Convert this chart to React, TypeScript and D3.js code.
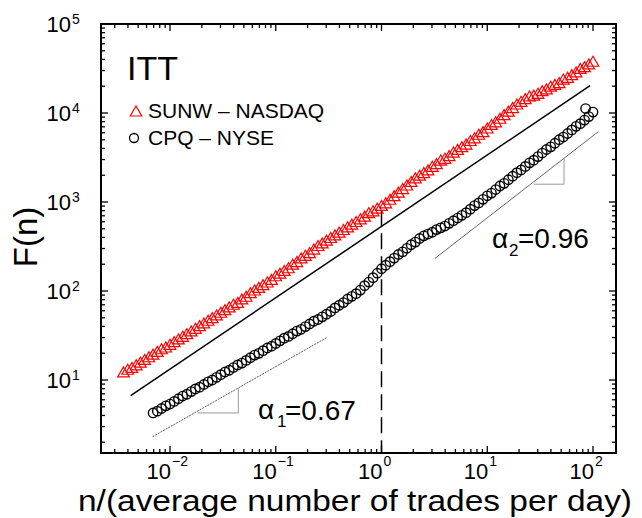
import React from 'react';
import * as d3 from 'd3';

const sunwExpN = [
  -2.44, -2.40, -2.36, -2.32, -2.28, -2.24, -2.20, -2.16, -2.12, -2.08,
  -2.04, -2.00, -1.96, -1.92, -1.88, -1.84, -1.80, -1.76, -1.72, -1.68,
  -1.64, -1.60, -1.56, -1.52, -1.48, -1.44, -1.40, -1.36, -1.32, -1.28,
  -1.24, -1.20, -1.16, -1.12, -1.08, -1.04, -1.00, -0.96, -0.92, -0.88,
  -0.84, -0.80, -0.76, -0.72, -0.68, -0.64, -0.60, -0.56, -0.52, -0.48,
  -0.44, -0.40, -0.36, -0.32, -0.28, -0.24, -0.20, -0.16, -0.12, -0.08,
  -0.04, 0.00, 0.04, 0.08, 0.12, 0.16, 0.20, 0.24, 0.28, 0.32,
  0.36, 0.40, 0.44, 0.48, 0.52, 0.56, 0.60, 0.64, 0.68, 0.72,
  0.76, 0.80, 0.84, 0.88, 0.92, 0.96, 1.00, 1.04, 1.08, 1.12,
  1.16, 1.20, 1.24, 1.28, 1.32, 1.36, 1.40, 1.44, 1.48, 1.52,
  1.56, 1.60, 1.64, 1.68, 1.72, 1.76, 1.80, 1.84, 1.88, 1.92,
  1.96, 2.00,
];
const sunwExpF = [
  1.08, 1.11, 1.13, 1.16, 1.19, 1.22, 1.25, 1.28, 1.31, 1.34,
  1.36, 1.39, 1.42, 1.45, 1.48, 1.51, 1.54, 1.57, 1.60, 1.63,
  1.66, 1.69, 1.72, 1.75, 1.78, 1.81, 1.84, 1.86, 1.90, 1.93,
  1.97, 2.00, 2.03, 2.06, 2.09, 2.12, 2.16, 2.19, 2.22, 2.25,
  2.29, 2.32, 2.36, 2.39, 2.42, 2.46, 2.50, 2.53, 2.56, 2.59,
  2.62, 2.65, 2.68, 2.71, 2.74, 2.77, 2.80, 2.83, 2.87, 2.89,
  2.92, 2.95, 2.98, 3.02, 3.06, 3.10, 3.14, 3.18, 3.22, 3.26,
  3.29, 3.32, 3.35, 3.39, 3.42, 3.46, 3.48, 3.51, 3.55, 3.58,
  3.61, 3.64, 3.68, 3.71, 3.75, 3.78, 3.82, 3.86, 3.89, 3.93,
  3.97, 4.01, 4.05, 4.09, 4.12, 4.15, 4.18, 4.19, 4.21, 4.24,
  4.26, 4.29, 4.31, 4.33, 4.37, 4.39, 4.42, 4.45, 4.49, 4.51,
  4.54, 4.57,
];

const cpqExpN = [
  -2.16, -2.12, -2.08, -2.04, -2.00, -1.96, -1.92, -1.88, -1.84, -1.80,
  -1.76, -1.72, -1.68, -1.64, -1.60, -1.56, -1.52, -1.48, -1.44, -1.40,
  -1.36, -1.32, -1.28, -1.24, -1.20, -1.16, -1.12, -1.08, -1.04, -1.00,
  -0.96, -0.92, -0.88, -0.84, -0.80, -0.76, -0.72, -0.68, -0.64, -0.60,
  -0.56, -0.52, -0.48, -0.44, -0.40, -0.36, -0.32, -0.28, -0.24, -0.20,
  -0.16, -0.12, -0.08, -0.04, 0.00, 0.04, 0.08, 0.12, 0.16, 0.20,
  0.24, 0.28, 0.32, 0.36, 0.40, 0.44, 0.48, 0.52, 0.56, 0.60,
  0.64, 0.68, 0.72, 0.76, 0.80, 0.84, 0.88, 0.92, 0.96, 1.00,
  1.04, 1.08, 1.12, 1.16, 1.20, 1.24, 1.28, 1.32, 1.36, 1.40,
  1.44, 1.48, 1.52, 1.56, 1.60, 1.64, 1.68, 1.72, 1.76, 1.80,
  1.84, 1.88, 1.92, 1.93, 1.96, 2.00,
];
const cpqExpF = [
  0.63, 0.65, 0.68, 0.71, 0.73, 0.76, 0.79, 0.82, 0.84, 0.87,
  0.90, 0.92, 0.95, 0.98, 1.00, 1.03, 1.06, 1.09, 1.11, 1.14,
  1.17, 1.19, 1.22, 1.25, 1.28, 1.30, 1.33, 1.36, 1.38, 1.41,
  1.44, 1.47, 1.49, 1.52, 1.55, 1.57, 1.60, 1.63, 1.66, 1.68,
  1.71, 1.74, 1.77, 1.81, 1.84, 1.87, 1.91, 1.94, 1.97, 2.01,
  2.06, 2.10, 2.15, 2.20, 2.25, 2.29, 2.33, 2.37, 2.41, 2.44,
  2.48, 2.52, 2.55, 2.59, 2.62, 2.64, 2.66, 2.69, 2.71, 2.73,
  2.76, 2.79, 2.82, 2.85, 2.88, 2.92, 2.96, 2.99, 3.03, 3.07,
  3.10, 3.14, 3.18, 3.21, 3.25, 3.29, 3.33, 3.36, 3.40, 3.44,
  3.47, 3.51, 3.55, 3.59, 3.62, 3.66, 3.70, 3.73, 3.77, 3.81,
  3.85, 3.88, 3.92, 4.05, 3.96, 4.01,
];

// reference lines, [exp n, exp F] end points
const fitLine = [[-2.372, 0.824], [1.972, 4.307]];
const alpha1Line = [[-2.164, 0.363], [-0.513, 1.48]];
const alpha2Line = [[0.506, 2.367], [2.05, 3.79]];
const alpha1Wedge = [[-1.74, 0.63], [-1.354, 0.63], [-1.354, 0.91]];
const alpha2Wedge = [[1.44, 3.2], [1.726, 3.2], [1.726, 3.49]];
const crossoverN = 1;
const crossoverTopF = 810;

const W = 642;
const H = 518;
const left = 101, right = 616, top = 24, bottom = 453;
const font = '"Liberation Sans", Arial, Helvetica, sans-serif';

const x = d3.scaleLog().domain([10 ** -2.6525, 10 ** 2.2175]).range([left, right]);
const y = d3.scaleLog().domain([10 ** 0.18, 1e5]).range([bottom, top]);

const isMajor = (v: number) => Math.abs(Math.log10(v) - Math.round(Math.log10(v))) < 1e-6;
const supText = (e: number) => (e < 0 ? '\u2212' + Math.abs(e) : String(e));

const px = (p: number[]) => x(10 ** p[0]);
const py = (p: number[]) => y(10 ** p[1]);
const linePath = (pts: number[][]) =>
  pts.map((p, i) => `${i ? 'L' : 'M'}${px(p).toFixed(2)},${py(p).toFixed(2)}`).join('');

const triPath = (cx: number, cy: number) =>
  `M${cx},${cy - 6}L${cx - 5.8},${cy + 4}L${cx + 5.8},${cy + 4}Z`;

export default function App() {
  const xTicks = x.ticks();
  const yTicks = y.ticks();

  return (
    <svg
      width={W}
      height={H}
      style={{ position: 'absolute', left: 0, top: 0, background: '#fff' }}
      fontFamily={font}
    >
      {/* reference lines */}
      <path d={linePath(fitLine)} stroke="#000" strokeWidth={1.5} fill="none" />
      <path d={linePath(alpha1Line)} stroke="#444" strokeWidth={0.9} strokeDasharray="2,1" fill="none" />
      <path d={linePath(alpha2Line)} stroke="#555" strokeWidth={0.9} fill="none" />
      <path d={linePath(alpha1Wedge)} stroke="#999" strokeWidth={1} fill="none" />
      <path d={linePath(alpha2Wedge)} stroke="#999" strokeWidth={1} fill="none" />
      <line
        x1={x(crossoverN)}
        x2={x(crossoverN)}
        y1={y(crossoverTopF)}
        y2={bottom}
        stroke="#000"
        strokeWidth={1.5}
        strokeDasharray="16,7"
      />

      {/* SUNW triangles */}
      <g fill="none" stroke="#ff0000" strokeWidth={1.2}>
        {sunwExpN.map((e, i) => (
          <path key={i} d={triPath(x(10 ** e), y(10 ** sunwExpF[i]))} />
        ))}
      </g>

      {/* CPQ circles */}
      <g fill="none" stroke="#000" strokeWidth={1.4}>
        {cpqExpN.map((e, i) => (
          <circle key={i} cx={x(10 ** e)} cy={y(10 ** cpqExpF[i])} r={4.7} />
        ))}
      </g>

      {/* frame and ticks */}
      <rect x={left} y={top} width={right - left} height={bottom - top} fill="none" stroke="#000" strokeWidth={2} />
      <g stroke="#000" strokeWidth={1.3}>
        {xTicks.map((v, i) => {
          const len = isMajor(v) ? 7 : 4;
          const xx = x(v);
          return (
            <g key={i}>
              <line x1={xx} x2={xx} y1={bottom} y2={bottom - len} />
              <line x1={xx} x2={xx} y1={top} y2={top + len} />
            </g>
          );
        })}
        {yTicks.map((v, i) => {
          const len = isMajor(v) ? 7 : 4;
          const yy = y(v);
          return (
            <g key={i}>
              <line x1={left} x2={left + len} y1={yy} y2={yy} />
              <line x1={right} x2={right - len} y1={yy} y2={yy} />
            </g>
          );
        })}
      </g>

      {/* tick labels */}
      {xTicks.filter(isMajor).map((v, i) => {
        const e = Math.round(Math.log10(v));
        const xx = x(v);
        return (
          <g key={i}>
            <text x={xx + 1} y={479} fontSize={22} textAnchor="end">10</text>
            <text x={xx + 2} y={466} fontSize={14}>{supText(e)}</text>
          </g>
        );
      })}
      {yTicks.filter(isMajor).map((v, i) => {
        const e = Math.round(Math.log10(v));
        const yy = y(v);
        return (
          <g key={i}>
            <text x={71} y={yy + 8} fontSize={22} textAnchor="end">10</text>
            <text x={72} y={yy} fontSize={14}>{supText(e)}</text>
          </g>
        );
      })}

      {/* axis titles */}
      <text x={355} y={511} fontSize={29} textAnchor="middle" textLength={554} lengthAdjust="spacingAndGlyphs">
        n/(average number of trades per day)
      </text>
      <text transform="translate(37,237) rotate(-90)" fontSize={33} textAnchor="middle">
        F(n)
      </text>

      {/* title and legend */}
      <text x={127} y={80} fontSize={34}>ITT</text>
      <path d={triPath(136, 112)} fill="none" stroke="#ff0000" strokeWidth={1.2} />
      <text x={148} y={118} fontSize={21}>SUNW – NASDAQ</text>
      <circle cx={134} cy={138} r={4.5} fill="none" stroke="#000" strokeWidth={1.3} />
      <text x={148} y={145} fontSize={21}>CPQ – NYSE</text>

      {/* slope labels */}
      <text x={258} y={419} fontSize={28}>α</text>
      <text x={277} y={427} fontSize={17}>1</text>
      <text x={285} y={420} fontSize={28}>=0.67</text>
      <text x={492} y={248} fontSize={28}>α</text>
      <text x={509} y={256} fontSize={17}>2</text>
      <text x={518} y={248} fontSize={28}>=0.96</text>
    </svg>
  );
}
